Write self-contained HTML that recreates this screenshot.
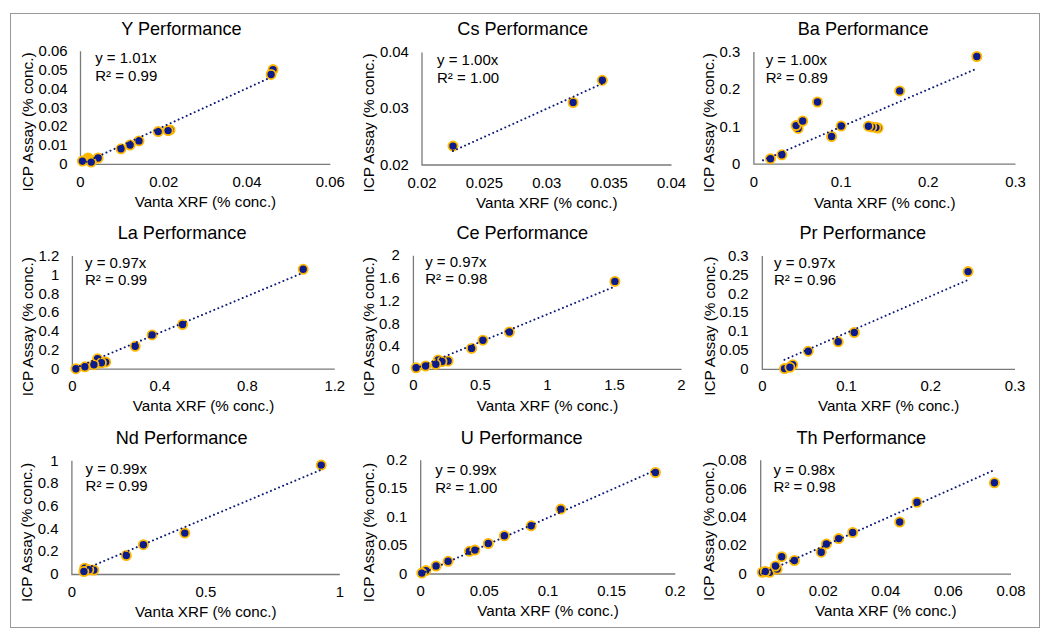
<!DOCTYPE html>
<html><head><meta charset="utf-8"><title>Vanta XRF vs ICP Assay Performance</title>
<style>
html,body{margin:0;padding:0;background:#fff;}
body{width:1057px;height:639px;overflow:hidden;}
svg{display:block;}
svg text{font-family:"Liberation Sans", Arial, sans-serif;fill:#000;}
svg circle{fill:#0c1c8c;stroke:#ffb800;stroke-width:1.8;}
svg circle.o{fill:#ffb800;}
</style></head><body>
<svg width="1057" height="639" viewBox="0 0 1057 639">
<rect width="1057" height="639" fill="#fff"/>
<rect x="10.5" y="13.5" width="1029" height="614" fill="none" stroke="#999" stroke-width="1"/>
<g><path d="M80.5 51.3V164.4H330.3" fill="none" stroke="#7a7a7a" stroke-width="1.3"/>
<text x="67.6" y="169.13" text-anchor="end" font-size="14.9">0</text>
<text x="67.6" y="150.28" text-anchor="end" font-size="14.9">0.01</text>
<text x="67.6" y="131.43" text-anchor="end" font-size="14.9">0.02</text>
<text x="67.6" y="112.58" text-anchor="end" font-size="14.9">0.03</text>
<text x="67.6" y="93.73" text-anchor="end" font-size="14.9">0.04</text>
<text x="67.6" y="74.88" text-anchor="end" font-size="14.9">0.05</text>
<text x="67.6" y="56.03" text-anchor="end" font-size="14.9">0.06</text>
<text x="80.5" y="187.2" text-anchor="middle" font-size="14.9">0</text>
<text x="163.77" y="187.2" text-anchor="middle" font-size="14.9">0.02</text>
<text x="247.03" y="187.2" text-anchor="middle" font-size="14.9">0.04</text>
<text x="330.3" y="187.2" text-anchor="middle" font-size="14.9">0.06</text>
<text x="181.4" y="35.1" text-anchor="middle" font-size="18.1">Y Performance</text>
<text x="205.4" y="207.2" text-anchor="middle" font-size="15.2">Vanta XRF (% conc.)</text>
<text transform="translate(33 122) rotate(-90)" text-anchor="middle" font-size="15.3">ICP Assay (% conc.)</text>
<circle cx="98.1" cy="158" r="4.6"/>
<circle class="o" cx="88" cy="158" r="4.6"/>
<circle cx="82.4" cy="161.1" r="4.6"/>
<circle cx="91.2" cy="162.1" r="4.6"/>
<circle cx="121" cy="148.8" r="4.6"/>
<circle cx="130.1" cy="145" r="4.6"/>
<circle cx="139" cy="140.9" r="4.6"/>
<circle cx="158.2" cy="131.6" r="4.6"/>
<circle cx="170" cy="129.9" r="4.6"/>
<circle cx="168.1" cy="130.6" r="4.6"/>
<circle cx="273" cy="69.6" r="4.6"/>
<circle cx="271.1" cy="74.4" r="4.6"/>
<line x1="82.4" y1="163.53" x2="273" y2="76.37" stroke="#0d1878" stroke-width="2" stroke-linecap="round" stroke-dasharray="0.01 4.4"/>
<text x="95.2" y="63.3" font-size="15.0">y = 1.01x</text>
<text x="95.2" y="81.2" font-size="15.0">R² = 0.99</text></g>
<g><path d="M422 52.4V165H671.5" fill="none" stroke="#7a7a7a" stroke-width="1.3"/>
<text x="408.9" y="169.73" text-anchor="end" font-size="14.9">0.02</text>
<text x="408.9" y="113.43" text-anchor="end" font-size="14.9">0.03</text>
<text x="408.9" y="57.13" text-anchor="end" font-size="14.9">0.04</text>
<text x="422" y="188" text-anchor="middle" font-size="14.9">0.02</text>
<text x="484.38" y="188" text-anchor="middle" font-size="14.9">0.025</text>
<text x="546.75" y="188" text-anchor="middle" font-size="14.9">0.03</text>
<text x="609.12" y="188" text-anchor="middle" font-size="14.9">0.035</text>
<text x="671.5" y="188" text-anchor="middle" font-size="14.9">0.04</text>
<text x="522.7" y="35.1" text-anchor="middle" font-size="18.1">Cs Performance</text>
<text x="546.75" y="208" text-anchor="middle" font-size="15.2">Vanta XRF (% conc.)</text>
<text transform="translate(374 123) rotate(-90)" text-anchor="middle" font-size="15.3">ICP Assay (% conc.)</text>
<circle cx="453" cy="146.1" r="4.6"/>
<circle cx="573.1" cy="102.5" r="4.6"/>
<circle cx="602.3" cy="80.3" r="4.6"/>
<line x1="453" y1="151.01" x2="602.3" y2="83.63" stroke="#0d1878" stroke-width="2" stroke-linecap="round" stroke-dasharray="0.01 4.4"/>
<text x="437" y="65.3" font-size="15.0">y = 1.00x</text>
<text x="437" y="82.5" font-size="15.0">R² = 1.00</text></g>
<g><path d="M753.9 52V164.2H1015.5" fill="none" stroke="#7a7a7a" stroke-width="1.3"/>
<text x="740.2" y="168.93" text-anchor="end" font-size="14.9">0</text>
<text x="740.2" y="131.53" text-anchor="end" font-size="14.9">0.1</text>
<text x="740.2" y="94.13" text-anchor="end" font-size="14.9">0.2</text>
<text x="740.2" y="56.73" text-anchor="end" font-size="14.9">0.3</text>
<text x="753.9" y="187.1" text-anchor="middle" font-size="14.9">0</text>
<text x="841.1" y="187.1" text-anchor="middle" font-size="14.9">0.1</text>
<text x="928.3" y="187.1" text-anchor="middle" font-size="14.9">0.2</text>
<text x="1015.5" y="187.1" text-anchor="middle" font-size="14.9">0.3</text>
<text x="863.1" y="35.1" text-anchor="middle" font-size="18.1">Ba Performance</text>
<text x="884.7" y="207.5" text-anchor="middle" font-size="15.2">Vanta XRF (% conc.)</text>
<text transform="translate(714.4 122.7) rotate(-90)" text-anchor="middle" font-size="15.3">ICP Assay (% conc.)</text>
<circle cx="770.5" cy="158.7" r="4.6"/>
<circle cx="781.9" cy="154.8" r="4.6"/>
<circle cx="798.1" cy="128.4" r="4.6"/>
<circle cx="796.1" cy="125.6" r="4.6"/>
<circle cx="802.7" cy="121" r="4.6"/>
<circle cx="817.5" cy="102" r="4.6"/>
<circle cx="831.6" cy="136.5" r="4.6"/>
<circle cx="841.2" cy="126" r="4.6"/>
<circle cx="878" cy="128" r="4.6"/>
<circle cx="875.9" cy="127.6" r="4.6"/>
<circle cx="871.7" cy="126.9" r="4.6"/>
<circle cx="868.4" cy="126.2" r="4.6"/>
<circle cx="899.7" cy="90.9" r="4.6"/>
<circle cx="976.8" cy="56.5" r="4.6"/>
<line x1="763.06" y1="160.27" x2="976.8" y2="68.6" stroke="#0d1878" stroke-width="2" stroke-linecap="round" stroke-dasharray="0.01 4.4"/>
<text x="765.7" y="65.3" font-size="15.0">y = 1.00x</text>
<text x="765.7" y="82.5" font-size="15.0">R² = 0.89</text></g>
<g><path d="M72.4 256.1V369.2H334.8" fill="none" stroke="#7a7a7a" stroke-width="1.3"/>
<text x="59.2" y="373.93" text-anchor="end" font-size="14.9">0</text>
<text x="59.2" y="355.08" text-anchor="end" font-size="14.9">0.2</text>
<text x="59.2" y="336.23" text-anchor="end" font-size="14.9">0.4</text>
<text x="59.2" y="317.38" text-anchor="end" font-size="14.9">0.6</text>
<text x="59.2" y="298.53" text-anchor="end" font-size="14.9">0.8</text>
<text x="59.2" y="279.68" text-anchor="end" font-size="14.9">1</text>
<text x="59.2" y="260.83" text-anchor="end" font-size="14.9">1.2</text>
<text x="72.4" y="391.1" text-anchor="middle" font-size="14.9">0</text>
<text x="159.87" y="391.1" text-anchor="middle" font-size="14.9">0.4</text>
<text x="247.33" y="391.1" text-anchor="middle" font-size="14.9">0.8</text>
<text x="334.8" y="391.1" text-anchor="middle" font-size="14.9">1.2</text>
<text x="182.1" y="239.3" text-anchor="middle" font-size="18.1">La Performance</text>
<text x="203.6" y="411.1" text-anchor="middle" font-size="15.2">Vanta XRF (% conc.)</text>
<text transform="translate(32.5 326.8) rotate(-90)" text-anchor="middle" font-size="15.3">ICP Assay (% conc.)</text>
<circle cx="97.6" cy="358.8" r="4.6"/>
<circle cx="105.7" cy="362.1" r="4.6"/>
<circle cx="101.4" cy="362.8" r="4.6"/>
<circle cx="75.9" cy="368.7" r="4.6"/>
<circle cx="84.9" cy="366.8" r="4.6"/>
<circle cx="93.9" cy="364.7" r="4.6"/>
<circle cx="135.2" cy="346.3" r="4.6"/>
<circle cx="152.1" cy="334.9" r="4.6"/>
<circle cx="182.6" cy="324.5" r="4.6"/>
<circle cx="303.2" cy="269.3" r="4.6"/>
<line x1="75.9" y1="367.74" x2="303.2" y2="272.7" stroke="#0d1878" stroke-width="2" stroke-linecap="round" stroke-dasharray="0.01 4.4"/>
<text x="85" y="268.1" font-size="15.0">y = 0.97x</text>
<text x="85" y="285.2" font-size="15.0">R² = 0.99</text></g>
<g><path d="M413.4 255.7V369.4H681.5" fill="none" stroke="#7a7a7a" stroke-width="1.3"/>
<text x="399.8" y="374.13" text-anchor="end" font-size="14.9">0</text>
<text x="399.8" y="351.39" text-anchor="end" font-size="14.9">0.4</text>
<text x="399.8" y="328.65" text-anchor="end" font-size="14.9">0.8</text>
<text x="399.8" y="305.91" text-anchor="end" font-size="14.9">1.2</text>
<text x="399.8" y="283.17" text-anchor="end" font-size="14.9">1.6</text>
<text x="399.8" y="260.43" text-anchor="end" font-size="14.9">2</text>
<text x="413.4" y="390.3" text-anchor="middle" font-size="14.9">0</text>
<text x="480.42" y="390.3" text-anchor="middle" font-size="14.9">0.5</text>
<text x="547.45" y="390.3" text-anchor="middle" font-size="14.9">1</text>
<text x="614.48" y="390.3" text-anchor="middle" font-size="14.9">1.5</text>
<text x="681.5" y="390.3" text-anchor="middle" font-size="14.9">2</text>
<text x="522.25" y="239.3" text-anchor="middle" font-size="18.1">Ce Performance</text>
<text x="547.45" y="410.8" text-anchor="middle" font-size="15.2">Vanta XRF (% conc.)</text>
<text transform="translate(374 326.8) rotate(-90)" text-anchor="middle" font-size="15.3">ICP Assay (% conc.)</text>
<circle cx="438.2" cy="359.9" r="4.6"/>
<circle cx="448.1" cy="361" r="4.6"/>
<circle cx="442" cy="361.5" r="4.6"/>
<circle cx="416.1" cy="367.8" r="4.6"/>
<circle cx="425.6" cy="366" r="4.6"/>
<circle cx="435.8" cy="364.3" r="4.6"/>
<circle cx="471.6" cy="348.4" r="4.6"/>
<circle cx="482.9" cy="340.2" r="4.6"/>
<circle cx="509.4" cy="332" r="4.6"/>
<circle cx="614.9" cy="281.4" r="4.6"/>
<line x1="416.1" y1="368.29" x2="614.9" y2="286.51" stroke="#0d1878" stroke-width="2" stroke-linecap="round" stroke-dasharray="0.01 4.4"/>
<text x="425.2" y="267.2" font-size="15.0">y = 0.97x</text>
<text x="425.2" y="284.2" font-size="15.0">R² = 0.98</text></g>
<g><path d="M762.3 256.1V369.4H1015" fill="none" stroke="#7a7a7a" stroke-width="1.3"/>
<text x="748.6" y="374.13" text-anchor="end" font-size="14.9">0</text>
<text x="748.6" y="355.25" text-anchor="end" font-size="14.9">0.05</text>
<text x="748.6" y="336.37" text-anchor="end" font-size="14.9">0.1</text>
<text x="748.6" y="317.48" text-anchor="end" font-size="14.9">0.15</text>
<text x="748.6" y="298.6" text-anchor="end" font-size="14.9">0.2</text>
<text x="748.6" y="279.72" text-anchor="end" font-size="14.9">0.25</text>
<text x="748.6" y="260.83" text-anchor="end" font-size="14.9">0.3</text>
<text x="762.3" y="391.1" text-anchor="middle" font-size="14.9">0</text>
<text x="846.53" y="391.1" text-anchor="middle" font-size="14.9">0.1</text>
<text x="930.77" y="391.1" text-anchor="middle" font-size="14.9">0.2</text>
<text x="1015" y="391.1" text-anchor="middle" font-size="14.9">0.3</text>
<text x="862.75" y="239.3" text-anchor="middle" font-size="18.1">Pr Performance</text>
<text x="888.65" y="411.1" text-anchor="middle" font-size="15.2">Vanta XRF (% conc.)</text>
<text transform="translate(714.6 326.3) rotate(-90)" text-anchor="middle" font-size="15.3">ICP Assay (% conc.)</text>
<circle cx="792.7" cy="364.8" r="4.6"/>
<circle cx="784.5" cy="368.6" r="4.6"/>
<circle cx="789.9" cy="367.3" r="4.6"/>
<circle cx="808.3" cy="351.2" r="4.6"/>
<circle cx="838.2" cy="341.8" r="4.6"/>
<circle cx="854.3" cy="332.5" r="4.6"/>
<circle cx="968.1" cy="271.6" r="4.6"/>
<line x1="784.5" y1="359.75" x2="968.1" y2="279.9" stroke="#0d1878" stroke-width="2" stroke-linecap="round" stroke-dasharray="0.01 4.4"/>
<text x="774" y="267.5" font-size="15.0">y = 0.97x</text>
<text x="774" y="284.6" font-size="15.0">R² = 0.96</text></g>
<g><path d="M71.9 460.8V574.5H339.8" fill="none" stroke="#7a7a7a" stroke-width="1.3"/>
<text x="58.5" y="579.23" text-anchor="end" font-size="14.9">0</text>
<text x="58.5" y="556.49" text-anchor="end" font-size="14.9">0.2</text>
<text x="58.5" y="533.75" text-anchor="end" font-size="14.9">0.4</text>
<text x="58.5" y="511.01" text-anchor="end" font-size="14.9">0.6</text>
<text x="58.5" y="488.27" text-anchor="end" font-size="14.9">0.8</text>
<text x="58.5" y="465.53" text-anchor="end" font-size="14.9">1</text>
<text x="71.9" y="596.9" text-anchor="middle" font-size="14.9">0</text>
<text x="205.85" y="596.9" text-anchor="middle" font-size="14.9">0.5</text>
<text x="339.8" y="596.9" text-anchor="middle" font-size="14.9">1</text>
<text x="181.6" y="443.9" text-anchor="middle" font-size="18.1">Nd Performance</text>
<text x="205.85" y="616.6" text-anchor="middle" font-size="15.2">Vanta XRF (% conc.)</text>
<text transform="translate(32 532.4) rotate(-90)" text-anchor="middle" font-size="15.3">ICP Assay (% conc.)</text>
<circle cx="84.7" cy="568.2" r="4.6"/>
<circle cx="93.8" cy="570.1" r="4.6"/>
<circle cx="88.8" cy="569.8" r="4.6"/>
<circle cx="83.9" cy="571.5" r="4.6"/>
<circle cx="126.3" cy="555.5" r="4.6"/>
<circle cx="143.4" cy="544.7" r="4.6"/>
<circle cx="184.8" cy="533.1" r="4.6"/>
<circle cx="321.2" cy="465.1" r="4.6"/>
<line x1="83.9" y1="569.46" x2="321.2" y2="469.75" stroke="#0d1878" stroke-width="2" stroke-linecap="round" stroke-dasharray="0.01 4.4"/>
<text x="85.6" y="473.9" font-size="15.0">y = 0.99x</text>
<text x="85.6" y="490.7" font-size="15.0">R² = 0.99</text></g>
<g><path d="M420.7 460.3V574H675.3" fill="none" stroke="#7a7a7a" stroke-width="1.3"/>
<text x="407.2" y="578.73" text-anchor="end" font-size="14.9">0</text>
<text x="407.2" y="550.31" text-anchor="end" font-size="14.9">0.05</text>
<text x="407.2" y="521.88" text-anchor="end" font-size="14.9">0.1</text>
<text x="407.2" y="493.46" text-anchor="end" font-size="14.9">0.15</text>
<text x="407.2" y="465.03" text-anchor="end" font-size="14.9">0.2</text>
<text x="420.7" y="596.1" text-anchor="middle" font-size="14.9">0</text>
<text x="484.35" y="596.1" text-anchor="middle" font-size="14.9">0.05</text>
<text x="548" y="596.1" text-anchor="middle" font-size="14.9">0.1</text>
<text x="611.65" y="596.1" text-anchor="middle" font-size="14.9">0.15</text>
<text x="675.3" y="596.1" text-anchor="middle" font-size="14.9">0.2</text>
<text x="521.7" y="443.9" text-anchor="middle" font-size="18.1">U Performance</text>
<text x="548" y="615.8" text-anchor="middle" font-size="15.2">Vanta XRF (% conc.)</text>
<text transform="translate(374 532.6) rotate(-90)" text-anchor="middle" font-size="15.3">ICP Assay (% conc.)</text>
<circle cx="425.9" cy="570.6" r="4.6"/>
<circle cx="421.8" cy="573.1" r="4.6"/>
<circle cx="436.1" cy="566" r="4.6"/>
<circle cx="448.1" cy="561.3" r="4.6"/>
<circle cx="469.4" cy="551.3" r="4.6"/>
<circle cx="474.9" cy="550.1" r="4.6"/>
<circle cx="488.3" cy="543.5" r="4.6"/>
<circle cx="504.4" cy="535.8" r="4.6"/>
<circle cx="531.2" cy="525.8" r="4.6"/>
<circle cx="560.8" cy="509.1" r="4.6"/>
<circle cx="655.4" cy="472.5" r="4.6"/>
<line x1="421.8" y1="573.51" x2="655.4" y2="470.24" stroke="#0d1878" stroke-width="2" stroke-linecap="round" stroke-dasharray="0.01 4.4"/>
<text x="435.2" y="475.3" font-size="15.0">y = 0.99x</text>
<text x="435.2" y="492.5" font-size="15.0">R² = 1.00</text></g>
<g><path d="M760.7 460.3V574.2H1011" fill="none" stroke="#7a7a7a" stroke-width="1.3"/>
<text x="746.9" y="578.93" text-anchor="end" font-size="14.9">0</text>
<text x="746.9" y="550.46" text-anchor="end" font-size="14.9">0.02</text>
<text x="746.9" y="521.98" text-anchor="end" font-size="14.9">0.04</text>
<text x="746.9" y="493.51" text-anchor="end" font-size="14.9">0.06</text>
<text x="746.9" y="465.03" text-anchor="end" font-size="14.9">0.08</text>
<text x="760.7" y="596.1" text-anchor="middle" font-size="14.9">0</text>
<text x="823.28" y="596.1" text-anchor="middle" font-size="14.9">0.02</text>
<text x="885.85" y="596.1" text-anchor="middle" font-size="14.9">0.04</text>
<text x="948.42" y="596.1" text-anchor="middle" font-size="14.9">0.06</text>
<text x="1011" y="596.1" text-anchor="middle" font-size="14.9">0.08</text>
<text x="861.3" y="443.9" text-anchor="middle" font-size="18.1">Th Performance</text>
<text x="885.85" y="615.8" text-anchor="middle" font-size="15.2">Vanta XRF (% conc.)</text>
<text transform="translate(714.4 531.4) rotate(-90)" text-anchor="middle" font-size="15.3">ICP Assay (% conc.)</text>
<circle cx="762.3" cy="572.3" r="4.6"/>
<circle cx="769.7" cy="572.3" r="4.6"/>
<circle cx="777.1" cy="569" r="4.6"/>
<circle cx="765.3" cy="571.5" r="4.6"/>
<circle cx="775.5" cy="566" r="4.6"/>
<circle cx="781.7" cy="556.7" r="4.6"/>
<circle cx="794.4" cy="560.5" r="4.6"/>
<circle cx="821.2" cy="552.2" r="4.6"/>
<circle cx="826.4" cy="544" r="4.6"/>
<circle cx="838.7" cy="538.6" r="4.6"/>
<circle cx="852.7" cy="532.5" r="4.6"/>
<circle cx="899.7" cy="522" r="4.6"/>
<circle cx="917" cy="502.3" r="4.6"/>
<circle cx="994.4" cy="482.8" r="4.6"/>
<line x1="762.3" y1="573.49" x2="994.4" y2="469.98" stroke="#0d1878" stroke-width="2" stroke-linecap="round" stroke-dasharray="0.01 4.4"/>
<text x="773.6" y="474.5" font-size="15.0">y = 0.98x</text>
<text x="773.6" y="491.6" font-size="15.0">R² = 0.98</text></g>
</svg>
</body></html>
